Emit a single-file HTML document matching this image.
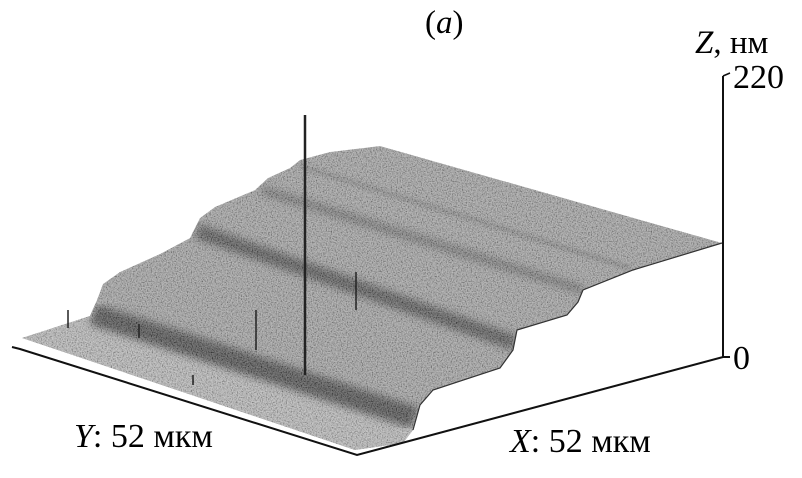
<!DOCTYPE html>
<html><head><meta charset="utf-8"><style>
html,body{margin:0;padding:0;background:#fff;}
svg{display:block;}
text{font-family:"Liberation Serif","DejaVu Serif",serif;fill:#000;}
</style></head><body>
<svg id="chart" width="802" height="478" viewBox="0 0 802 478" xmlns="http://www.w3.org/2000/svg">
<defs>
<filter id="noise" x="0" y="0" width="100%" height="100%">
<feTurbulence type="fractalNoise" baseFrequency="0.8" numOctaves="2" seed="3" result="n"/>
<feColorMatrix in="n" type="matrix" values="2.2 0 0 0 -0.6  2.2 0 0 0 -0.6  2.2 0 0 0 -0.6  0 0 0 0 1"/>
</filter>
<filter id="blur"><feGaussianBlur stdDeviation="4"/></filter>
<filter id="blur2"><feGaussianBlur stdDeviation="2"/></filter>
<clipPath id="surfClip"><polygon id="clipPoly"/></clipPath>
</defs>
<g id="surface"></g>
<g id="axes">
<polyline points="12,347 20,349 357,455 723,357 730,357" fill="none" stroke="#111" stroke-width="2"/>
<line x1="723" y1="357" x2="723" y2="76" stroke="#111" stroke-width="2"/>
<line x1="723" y1="76" x2="730" y2="73" stroke="#111" stroke-width="1.5"/>
</g>
<text x="425" y="33" font-size="33">(<tspan font-style="italic">a</tspan>)</text>
<text x="695" y="53" font-size="33"><tspan font-style="italic">Z</tspan>, нм</text>
<g id="zticks"></g>
<text x="74" y="447" font-size="34"><tspan font-style="italic">Y</tspan>: 52 мкм</text>
<text x="510" y="452" font-size="34"><tspan font-style="italic">X</tspan>: 52 мкм</text>
</svg>
<script>
const zTickLabels = ["0", "220"];
const zTickValues = [0, 220];
const leftProfile = [[22,338],[90,316],[97,300],[103,284],[120,272],[160,254],[190,238],[200,218],[215,207],[255,190],[268,178],[290,168],[300,160],[330,152],[380,146]];
const rightProfile = [[722,243],[633,270],[583,290],[578,302],[567,315],[517,330],[513,350],[500,368],[433,390],[420,405],[413,430],[403,443],[355,450]];
const spikeHeights = [260, 40, 38, 18, 14, 10];
const spikeBases = [[305,375],[256,350],[356,310],[68,328],[139,338],[193,385]];

const NS = "http://www.w3.org/2000/svg";
const zScale = v => 357 - (v / 220) * (357 - 76);
const zg = document.getElementById('zticks');
zTickValues.forEach((v, i) => {
  const t = document.createElementNS(NS, 'text');
  
  
  t.setAttribute('x', 733);
  t.setAttribute('y', zScale(v) + 12);
  t.setAttribute('font-size', '34');
  t.textContent = zTickLabels[i];
  zg.appendChild(t);
});

const pts = leftProfile.concat(rightProfile).map(p => p.join(',')).join(' ');
document.getElementById('clipPoly').setAttribute('points', pts);
const g = document.getElementById('surface');
const s = document.createElementNS(NS, 'g');
s.setAttribute('clip-path', 'url(#surfClip)');
g.appendChild(s);
function add(tag, attrs, name) {
  const e = document.createElementNS(NS, tag);
  for (const k in attrs) e.setAttribute(k, attrs[k]);
  
  
  s.appendChild(e);
  return e;
}
add('polygon', {points: pts, fill: '#9c9c9c'}, 'surface-base');
add('polygon', {points: '0,330 95,302 420,420 420,470 0,470', fill: '#b2b2b2', filter: 'url(#blur2)'}, 'lower-terrace');
add('line', {x1: 93, y1: 314, x2: 415, y2: 418, stroke: '#444', 'stroke-width': 22, filter: 'url(#blur)'}, 'groove-1');
add('line', {x1: 197, y1: 231, x2: 515, y2: 343, stroke: '#4e4e4e', 'stroke-width': 15, filter: 'url(#blur)'}, 'groove-2');
add('line', {x1: 262, y1: 190, x2: 583, y2: 290, stroke: '#666', 'stroke-width': 8, filter: 'url(#blur)'}, 'groove-3');
add('line', {x1: 300, y1: 166, x2: 630, y2: 268, stroke: '#7a7a7a', 'stroke-width': 4, filter: 'url(#blur2)'}, 'groove-4');
add('rect', {x: 0, y: 0, width: 802, height: 478, filter: 'url(#noise)', opacity: 0.3}, 'surface-texture');
const edge = document.createElementNS(NS, 'polyline');
edge.setAttribute('points', rightProfile.slice(0, 11).map(p => p.join(',')).join(' '));
edge.setAttribute('fill', 'none');
edge.setAttribute('stroke', '#333');
edge.setAttribute('stroke-width', '1.2');


g.appendChild(edge);
spikeHeights.forEach((h, i) => {
  const l = document.createElementNS(NS, 'line');
  
  
  const [x, y] = spikeBases[i];
  l.setAttribute('x1', x); l.setAttribute('y1', y);
  l.setAttribute('x2', x); l.setAttribute('y2', y - h);
  l.setAttribute('stroke', '#222');
  l.setAttribute('stroke-width', i === 0 ? 2.5 : 1.5);
  g.appendChild(l);
});
</script>
</body></html>
